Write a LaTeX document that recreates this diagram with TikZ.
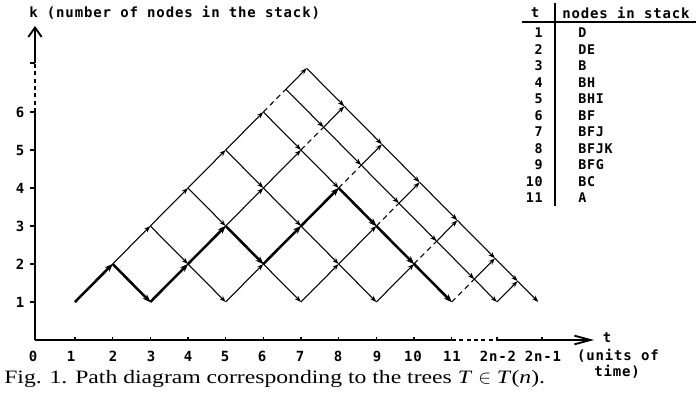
\documentclass[tikz,border=0pt]{standalone}
\usepackage{fontspec}
\usetikzlibrary{arrows.meta}
\setmainfont{Liberation Serif}
\newfontfamily\labfont[LetterSpace=6]{DejaVu Sans Mono}
\newfontfamily\capfont[FakeStretch=1.25]{Liberation Serif}
\begin{document}
\begin{tikzpicture}[x=0.75pt,y=-0.75pt,
  lat/.style={line width=0.8pt,-{Stealth[length=5pt,width=3.6pt]}},
  gapline/.style={line width=0.8pt,dash pattern=on 4pt off 3pt},
  boldpath/.style={line width=1.9pt,-{Stealth[length=6pt,width=4.6pt]}},
  axis/.style={line width=1.4pt},
  axisdash/.style={line width=1.1pt,dash pattern=on 3pt off 2.5pt},
  lab/.style={font=\labfont\bfseries\fontsize{10.5}{12}\selectfont,inner sep=0pt},
  tab/.style={font=\labfont\bfseries\fontsize{10}{12}\selectfont,inner sep=0pt},
  rule/.style={line width=1.1pt}
]
\useasboundingbox (0,0) rectangle (696,396);

% ---------- lattice points ----------
\foreach \m in {0,...,5}{
  \pgfmathtruncatemacro\J{5-\m}
  \foreach \j in {0,...,\J}{
    \coordinate (p\m-\j) at ({37.3+37.67*(2*\m+1+\j)},{340-38*(1+\j)});
  }
  \coordinate (a\m) at ({37.3+37.67*(6.6+\m)},{340-38*(6.6-\m)});
  \coordinate (b\m) at ({37.3+37.67*(7.15+\m)},{340-38*(7.15-\m)});
}
\coordinate (a6) at ({37.3+37.67*12.2},{340-38});
\coordinate (b6) at ({37.3+37.67*12.75},{340-38*1.55});
\coordinate (b7) at ({37.3+37.67*13.3},{340-38});

% ---------- up steps ----------
\foreach \m in {0,...,4}{
  \pgfmathtruncatemacro\Jm{4-\m}
  \foreach \j in {0,...,\Jm}{
    \pgfmathtruncatemacro\jn{\j+1}
    \draw[lat] (p\m-\j) -- (p\m-\jn);
  }
}
% ---------- down steps ----------
\foreach \m in {0,...,4}{
  \pgfmathtruncatemacro\J{5-\m}
  \pgfmathtruncatemacro\mn{\m+1}
  \foreach \j in {1,...,\J}{
    \pgfmathtruncatemacro\jp{\j-1}
    \draw[lat] (p\m-\j) -- (p\mn-\jp);
  }
}
% ---------- gap (dashed) ----------
\foreach \m in {0,...,5}{
  \pgfmathtruncatemacro\J{5-\m}
  \draw[gapline] (p\m-\J) -- (a\m);
}
\foreach \m in {0,...,6}{
  \draw[lat] (a\m) -- (b\m);
}
\foreach \m in {0,...,5}{
  \pgfmathtruncatemacro\mn{\m+1}
  \draw[lat] (a\m) -- (a\mn);
}
\foreach \m in {0,...,6}{
  \pgfmathtruncatemacro\mn{\m+1}
  \draw[lat] (b\m) -- (b\mn);
}
% ---------- bold path ----------
\foreach \s/\e in {p0-0/p0-1,p0-1/p1-0,p1-0/p1-1,p1-1/p1-2,p1-2/p2-1,p2-1/p2-2,p2-2/p2-3,p2-3/p3-2,p3-2/p4-1,p4-1/p5-0}{
  \draw[boldpath] (\s) -- (\e);
}

% ---------- axes ----------
\coordinate (O) at (35,340);
\coordinate (Y6) at (35,112);
\coordinate (Yn) at (35,63);
\coordinate (Ytop) at (35,26);
\coordinate (X11) at (452,340);
\coordinate (Xg) at (497,340);
\coordinate (Xend) at (594,340);
\draw[axis] (O) -- (Y6);
\draw[axisdash] (Y6) -- (Yn);
\draw[axis,-{Straight Barb[length=7pt,width=10pt]}] (Yn) -- (Ytop);
\draw[axis] (O) -- (X11);
\draw[axisdash] (X11) -- (Xg);
\draw[axis,-{Straight Barb[length=12pt,width=6.5pt]}] (Xg) -- (Xend);
\draw[line width=0.9pt] (30,63) -- (Yn);

\foreach \k in {1,...,6}{
  \coordinate (yt\k) at (35,{340-38*\k});
  \draw[line width=0.9pt] (yt\k) -- ++(-5,0);
  \node[lab] (yl\k) at (20,{340-38*\k}) {\k};
}
\foreach \t in {1,...,11}{
  \coordinate (xt\t) at ({37.3+37.67*\t},340);
  \draw[line width=0.9pt] (xt\t) -- ++(0,-3.5);
}
\draw[line width=0.9pt] (Xg) -- ++(0,-3.5);
\coordinate (xtl) at (542,340);
\draw[line width=0.9pt] (xtl) -- ++(0,-3.5);

\foreach \t/\x in {0/33,1/71,2/113,3/151,4/188,5/225,6/262,7/300,8/338,9/377,10/413,11/452}{
  \node[lab] (xl\t) at (\x,356) {\t};
}
\node[lab] (xla) at (498,356) {2n-2};
\node[lab] (xlb) at (543,356) {2n-1};
\node[lab] (tlab) at (607,338) {t};
\node[lab] (units) at (618,356) {(units of};
\node[lab] (time) at (617,372) {time)};

\node[lab,anchor=west] (klab) at (29,13) {k (number of nodes in the stack)};

% ---------- table ----------
\node[lab] (th) at (535,13) {t};
\node[lab,anchor=west] (nh) at (562,13) {nodes in stack};
\draw[rule] (522,22) -- (696,22);
\draw[rule] (555,3) -- (555,206);
\foreach \n/\s in {1/D,2/DE,3/B,4/BH,5/BHI,6/BF,7/BFJ,8/BFJK,9/BFG,10/BC,11/A}{
  \node[tab,anchor=east] (tn\n) at (543,{33+16.5*(\n-1)}) {\n};
  \node[tab,anchor=west] (te\n) at (578,{33+16.5*(\n-1)}) {\s};
}

% ---------- caption ----------
\node[anchor=west,inner sep=0pt,font=\capfont\fontsize{14.2}{16}\selectfont] (cap) at (4,379)
  {Fig. 1. Path diagram corresponding to the trees \textit{T} $\in$ \textit{T}(\textit{n}).};
\end{tikzpicture}
\end{document}
